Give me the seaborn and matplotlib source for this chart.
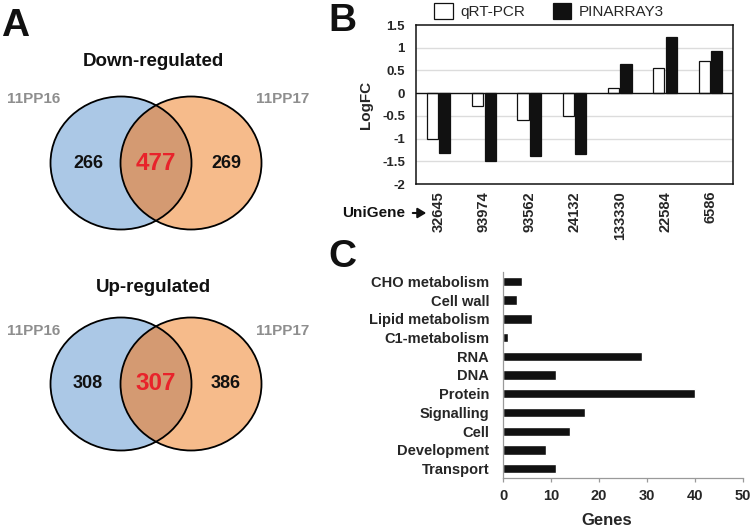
import matplotlib
matplotlib.use("Agg")
import matplotlib.pyplot as plt
from matplotlib.patches import Ellipse, Patch
import seaborn as sns
import pandas as pd
import numpy as np

# ---------------- data ----------------
venn_sets = ["11PP16", "11PP17"]
down_counts = [266, 477, 269]
up_counts = [308, 307, 386]

unigenes = ["32645", "93974", "93562", "24132", "133330", "22584", "6586"]
qrt_pcr = [-1.02, -0.29, -0.60, -0.51, 0.12, 0.56, 0.71]
pinarray3 = [-1.32, -1.49, -1.38, -1.33, 0.64, 1.23, 0.92]
methods = ["qRT-PCR", "PINARRAY3"]

categories = ["CHO metabolism", "Cell wall", "Lipid metabolism", "C1-metabolism",
              "RNA", "DNA", "Protein", "Signalling", "Cell", "Development", "Transport"]
gene_counts = [4, 3, 6, 1, 29, 11, 40, 17, 14, 9, 11]

# ---------------- style ----------------
sns.set_style("white")
plt.rcParams["font.family"] = ["Liberation Sans", "DejaVu Sans"]
plt.rcParams["font.weight"] = "bold"

W, H = 752, 531
fig = plt.figure(figsize=(W / 100, H / 100), dpi=100)

def fx(px):
    return px / W

def fy(py):
    return 1 - py / H

# overlay axes in pixel coordinates (for panel A and labels)
ov = fig.add_axes([0, 0, 1, 1])
ov.set_xlim(0, W)
ov.set_ylim(H, 0)
ov.axis("off")

BLUE = "#abc8e6"
ORANGE = "#f6bb8b"
OVER = "#d49a72"
RED = "#e8232b"
GRAY = "#8e8e8e"

def venn(ax, cy, counts, title, title_y, lab_y):
    lx, rx = 121, 191
    w, h = 141, 133
    c1 = Ellipse((lx, cy), w, h, facecolor=BLUE, edgecolor="none", zorder=1)
    c2 = Ellipse((rx, cy), w, h, facecolor=ORANGE, edgecolor="none", zorder=1)
    ax.add_patch(c1)
    ax.add_patch(c2)
    c3 = Ellipse((rx, cy), w, h, facecolor=OVER, edgecolor="none", zorder=2)
    ax.add_patch(c3)
    c3.set_clip_path(c1)
    for x in (lx, rx):
        ax.add_patch(Ellipse((x, cy), w, h, facecolor="none", edgecolor="black",
                             linewidth=1.3, zorder=3))
    ax.text(88, cy, str(counts[0]), ha="center", va="center", fontsize=13,
            fontweight="bold", color="#111111", zorder=4)
    ax.text(156, cy, str(counts[1]), ha="center", va="center", fontsize=17.5,
            fontweight="bold", color=RED, zorder=4)
    ax.text(226, cy, str(counts[2]), ha="center", va="center", fontsize=13,
            fontweight="bold", color="#111111", zorder=4)
    ax.text(34, lab_y, venn_sets[0], ha="center", va="center", fontsize=11,
            fontweight="bold", color=GRAY)
    ax.text(283, lab_y, venn_sets[1], ha="center", va="center", fontsize=11,
            fontweight="bold", color=GRAY)
    ax.text(153, title_y, title, ha="center", va="center", fontsize=13.5,
            fontweight="bold", color="#111111")

venn(ov, 163, down_counts, "Down-regulated", 62, 99)
venn(ov, 384, up_counts, "Up-regulated", 287, 331)

# panel letters
for letter, x, y in [("A", 15, 26), ("B", 342, 21), ("C", 342, 257)]:
    ov.text(x, y, letter, ha="center", va="center", fontsize=28, fontweight="bold",
            color="#111111")

# ---------------- panel B ----------------
axB = fig.add_axes([fx(416), fy(184), fx(733) - fx(416), (184 - 25) / H])
dfB = pd.DataFrame({
    "UniGene": unigenes * 2,
    "LogFC": qrt_pcr + pinarray3,
    "Method": [methods[0]] * len(unigenes) + [methods[1]] * len(unigenes),
})
sns.barplot(data=dfB, x="UniGene", y="LogFC", hue="Method", order=unigenes,
            hue_order=methods, palette={methods[0]: "white", methods[1]: "#111111"},
            width=0.55, gap=0.1, edgecolor="#111111", linewidth=0.9,
            ax=axB, legend=False, zorder=3)
axB.set_ylim(-2, 1.5)
axB.set_xlim(-0.5, len(unigenes) - 0.5)
axB.set_yticks([-2, -1.5, -1, -0.5, 0, 0.5, 1, 1.5])
axB.set_yticklabels(["-2", "-1.5", "-1", "-0.5", "0", "0.5", "1", "1.5"])
for yv in [-1.5, -1, -0.5, 0.5, 1]:
    axB.axhline(yv, color="#dcdcdc", linewidth=1.0, zorder=0)
axB.axhline(0, color="#111111", linewidth=1.0, zorder=4)
for s in axB.spines.values():
    s.set_visible(True)
    s.set_color("#111111")
    s.set_linewidth(1.1)
axB.tick_params(axis="y", length=0, pad=8, labelsize=9.5)
axB.tick_params(axis="x", length=0, pad=5, labelsize=10.5, labelrotation=90)
for t in axB.get_xticklabels() + axB.get_yticklabels():
    t.set_fontweight("bold")
axB.set_xlabel("")
axB.set_ylabel("LogFC", fontsize=11, fontweight="bold", labelpad=4)
axB.yaxis.set_label_coords(-0.135, 0.5)

handles = [Patch(facecolor="white", edgecolor="#111111", linewidth=0.9),
           Patch(facecolor="#111111", edgecolor="#111111", linewidth=0.9)]
fig.legend(handles, methods, loc="center", bbox_to_anchor=(fx(549), fy(11)),
           ncol=2, frameon=False, handlelength=1.2, handleheight=1.2,
           handletextpad=0.5, columnspacing=1.8,
           prop={"size": 11, "weight": "normal"})

ov.text(374, 213, "UniGene", ha="center", va="center", fontsize=11,
        fontweight="bold", color="#111111")
ov.annotate("", xy=(429, 213), xytext=(410, 213),
            arrowprops=dict(arrowstyle="-|>,head_length=0.5,head_width=0.3",
                            color="#111111", linewidth=1.5))

# ---------------- panel C ----------------
axC = fig.add_axes([fx(503), fy(478), fx(743) - fx(503), (478 - 272) / H])
dfC = pd.DataFrame({"Category": categories, "Genes": gene_counts})
sns.barplot(data=dfC, y="Category", x="Genes", order=categories, color="#111111",
            width=0.5, ax=axC, orient="h", saturation=1)
axC.set_xlim(0, 50)
axC.set_ylim(len(categories) - 0.5, -0.5)
axC.set_xticks([0, 10, 20, 30, 40, 50])
for side in ["top", "right"]:
    axC.spines[side].set_visible(False)
for side in ["left", "bottom"]:
    axC.spines[side].set_color("#9a9a9a")
    axC.spines[side].set_linewidth(0.9)
axC.tick_params(axis="x", length=3, width=0.9, color="#9a9a9a", direction="out",
                bottom=True, pad=5, labelsize=10.5)
axC.tick_params(axis="y", length=0, pad=10, labelsize=10.5)
for t in axC.get_xticklabels() + axC.get_yticklabels():
    t.set_fontweight("bold")
axC.set_ylabel("")
axC.set_xlabel("Genes", fontsize=12, fontweight="bold")
axC.xaxis.set_label_coords((607 - 503) / 240, -(513 - 478) / 206)

fig.savefig("out.png", dpi=100)
